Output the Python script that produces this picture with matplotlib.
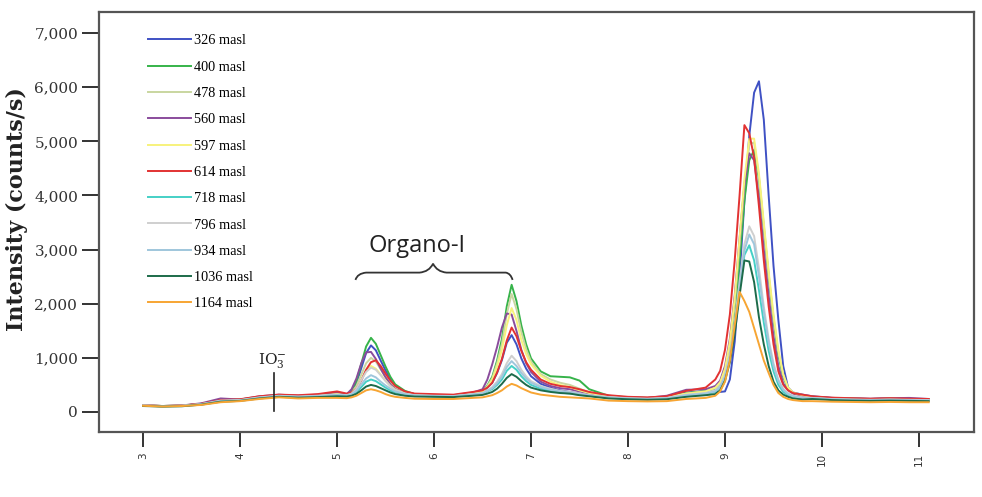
import matplotlib
matplotlib.use("Agg")
import matplotlib.pyplot as plt
from matplotlib.path import Path
from matplotlib.patches import PathPatch
from matplotlib.ticker import FuncFormatter

# ---------------- data ----------------
x_vals = [3.0, 3.2, 3.4, 3.6, 3.8, 4.0, 4.2, 4.4, 4.6, 4.8, 5.0,
          5.1, 5.15, 5.2, 5.25, 5.3, 5.35, 5.4, 5.45, 5.5, 5.55, 5.6, 5.7, 5.8,
          6.0, 6.2, 6.4, 6.5,
          6.55, 6.6, 6.65, 6.7, 6.75, 6.8, 6.85, 6.9, 6.95, 7.0, 7.1, 7.2,
          7.3, 7.4, 7.5, 7.6, 7.8, 8.0, 8.2, 8.4, 8.6, 8.8,
          8.9, 8.95, 9.0, 9.05, 9.1, 9.15, 9.2, 9.25, 9.3, 9.35, 9.4, 9.45, 9.5, 9.55, 9.6, 9.65, 9.7, 9.8,
          9.9, 10.1, 10.3, 10.5, 10.7, 10.9, 11.1]

labels = ["326 masl", "400 masl", "478 masl", "560 masl", "597 masl", "614 masl",
          "718 masl", "796 masl", "934 masl", "1036 masl", "1164 masl"]
colors = ["#3f51c4", "#36b34a", "#c9d6a0", "#8a4c9c", "#f7f27c", "#e23232",
          "#45d0c6", "#cfcfcf", "#9fc6dc", "#1d6b4a", "#f7a533"]

y_326 = [120, 105, 115, 150, 210, 220, 270, 290, 280, 300, 330,
         320, 375, 530, 810, 1090, 1230, 1140, 950, 770, 610, 490, 370, 330,
         300, 300, 340, 360,
         450, 540, 720, 960, 1280, 1420, 1250, 990, 800, 660, 520, 450,
         400, 370, 340, 300, 270, 250, 250, 270, 360, 380,
         370, 370, 380, 600, 1300, 2500, 3900, 5100, 5900, 6110, 5400, 4000, 2700, 1700, 850, 450, 360, 320,
         290, 260, 250, 240, 250, 240, 235]
y_400 = [125, 110, 120, 145, 220, 230, 280, 310, 290, 310, 340,
         320, 390, 570, 890, 1210, 1370, 1260, 1050, 840, 650, 510, 390, 330,
         310, 300, 350, 380,
         490, 650, 950, 1350, 1950, 2350, 2050, 1600, 1250, 990, 750, 660,
         650, 640, 580, 420, 300, 270, 260, 280, 350, 390,
         420, 480, 650, 1050, 1750, 2800, 3900, 4650, 4840, 4300, 3400, 2500, 1700, 1050, 650, 430, 350, 300,
         280, 255, 245, 240, 245, 240, 230]
y_478 = [120, 110, 115, 150, 215, 225, 275, 300, 290, 305, 335,
         315, 360, 480, 690, 900, 1000, 930, 790, 650, 530, 440, 360, 320,
         300, 300, 340, 370,
         480, 620, 900, 1260, 1810, 2180, 1900, 1480, 1160, 930, 700, 600,
         540, 500, 430, 360, 290, 265, 255, 270, 340, 380,
         440, 530, 760, 1250, 2000, 3100, 4200, 4950, 4980, 4350, 3450, 2550, 1750, 1100, 680, 440, 350, 300,
         280, 255, 245, 235, 245, 235, 230]
y_560 = [125, 110, 120, 160, 250, 230, 290, 320, 300, 320, 360,
         330, 420, 620, 900, 1100, 1110, 980, 800, 640, 510, 420, 350, 320,
         310, 310, 360, 420,
         600, 880, 1200, 1560, 1820, 1800, 1500, 1150, 900, 740, 560, 480,
         440, 420, 380, 340, 290, 270, 260, 300, 410, 420,
         480, 580, 850, 1350, 2150, 3200, 4200, 4780, 4650, 3950, 3000, 2150, 1400, 850, 530, 400, 340, 300,
         280, 260, 250, 245, 255, 260, 240]
y_597 = [120, 105, 115, 145, 210, 225, 270, 300, 290, 300, 330,
         310, 345, 440, 600, 770, 850, 800, 690, 580, 480, 410, 345, 315,
         300, 295, 340, 370,
         460, 590, 840, 1150, 1600, 1920, 1700, 1330, 1070, 880, 670, 560,
         500, 460, 400, 350, 285, 265, 255, 270, 340, 380,
         450, 550, 800, 1300, 2100, 3200, 4300, 5050, 5050, 4400, 3500, 2600, 1800, 1150, 700, 450, 360, 310,
         275, 250, 245, 235, 245, 235, 230]
y_614 = [125, 110, 120, 150, 220, 235, 290, 320, 310, 330, 380,
         340, 360, 430, 580, 780, 920, 955, 850, 710, 580, 480, 380, 340,
         330, 320, 370, 400,
         450, 540, 730, 980, 1320, 1560, 1400, 1130, 920, 780, 600, 520,
         480, 460, 420, 370, 310, 280, 270, 290, 390, 450,
         600, 760, 1150, 1800, 2800, 4000, 5300, 5150, 4700, 3800, 2800, 1950, 1250, 750, 500, 400, 350, 320,
         290, 265, 255, 245, 255, 245, 240]
y_718 = [115, 105, 110, 140, 200, 215, 260, 290, 275, 290, 310,
         305, 320, 370, 460, 560, 600, 570, 510, 450, 400, 360, 320, 300,
         290, 290, 320, 340,
         380, 420, 500, 600, 760, 850, 780, 660, 570, 500, 430, 390,
         360, 340, 320, 300, 260, 240, 235, 250, 300, 330,
         370, 450, 640, 1000, 1550, 2250, 2900, 3080, 2800, 2250, 1650, 1130, 750, 500, 370, 310, 280, 250,
         255, 235, 225, 220, 225, 220, 215]
y_796 = [120, 110, 115, 145, 210, 220, 270, 300, 285, 300, 320,
         310, 340, 430, 590, 740, 820, 780, 680, 570, 480, 410, 340, 310,
         300, 295, 330, 350,
         400, 460, 560, 700, 900, 1040, 940, 780, 660, 570, 480, 430,
         390, 370, 340, 310, 275, 255, 245, 260, 320, 350,
         400, 480, 680, 1050, 1650, 2400, 3100, 3430, 3250, 2650, 1950, 1350, 900, 600, 430, 350, 300, 270,
         260, 240, 230, 225, 230, 225, 220]
y_934 = [120, 105, 115, 140, 205, 215, 265, 295, 280, 295, 315,
         305, 330, 390, 510, 620, 680, 640, 560, 490, 430, 380, 330, 305,
         295, 290, 325, 345,
         390, 440, 530, 650, 830, 940, 850, 720, 620, 540, 460, 410,
         380, 360, 330, 305, 270, 250, 240, 255, 310, 340,
         380, 460, 650, 1000, 1580, 2300, 2980, 3280, 3100, 2500, 1850, 1280, 850, 570, 410, 330, 290, 260,
         255, 235, 225, 220, 225, 220, 215]
y_1036 = [110, 100, 105, 135, 190, 205, 250, 280, 265, 275, 290,
          285, 300, 335, 400, 470, 500, 480, 440, 400, 360, 330, 300, 285,
          280, 275, 300, 315,
          340, 370, 430, 520, 630, 700, 650, 570, 500, 450, 400, 370,
          350, 340, 310, 290, 250, 235, 225, 235, 280, 310,
          330, 400, 580, 920, 1450, 2150, 2800, 2780, 2400, 1750, 1250, 850, 560, 400, 320, 280, 250, 230,
          240, 220, 210, 205, 210, 205, 200]
y_1164 = [115, 100, 110, 130, 180, 200, 240, 270, 250, 260, 260,
          255, 270, 300, 350, 400, 420, 400, 370, 330, 300, 280, 260, 245,
          240, 240, 260, 270,
          290, 310, 350, 400, 470, 520, 490, 440, 400, 360, 320, 300,
          280, 270, 260, 250, 210, 200, 195, 200, 240, 260,
          300, 380, 560, 950, 1600, 2220, 2050, 1850, 1550, 1250, 950, 720, 500, 350, 280, 240, 220, 200,
          200, 190, 185, 180, 185, 180, 180]

series = [y_326, y_400, y_478, y_560, y_597, y_614, y_718, y_796, y_934, y_1036, y_1164]

x_ticks = [3, 4, 5, 6, 7, 8, 9, 10, 11]
y_ticks = [0, 1000, 2000, 3000, 4000, 5000, 6000, 7000]

# ---------------- figure ----------------
fig = plt.figure(figsize=(9.82, 4.97), dpi=100)
ax = fig.add_axes([99 / 982, 65 / 497, 875 / 982, 420 / 497])

for ys, lab, col in zip(series, labels, colors):
    ax.plot(x_vals, ys, color=col, lw=1.4, label=lab)

ax.set_xlim(2.546, 11.567)
ax.set_ylim(-370, 7390)

for s in ax.spines.values():
    s.set_color("#555555")
    s.set_linewidth(1.6)

ax.set_xticks(x_ticks)
ax.set_yticks(y_ticks)
ax.yaxis.set_major_formatter(FuncFormatter(lambda v, p: f"{int(v):,}"))
ax.tick_params(axis="y", direction="out", length=12, width=1.4, color="#333333",
               labelsize=11, pad=3, labelcolor="#333333")
ax.tick_params(axis="x", direction="out", length=11, width=1.4, color="#333333",
               labelsize=7.5, pad=4, labelrotation=90, labelcolor="#333333")
for t in ax.get_yticklabels():
    t.set_fontfamily("DejaVu Serif")
for t in ax.get_xticklabels():
    t.set_fontfamily("DejaVu Sans")

fig.text(17 / 982, 1 - 209 / 497, "Intensity (counts/s)", rotation=90, ha="center",
         va="center", fontsize=16, fontweight="bold", family="DejaVu Serif",
         color="#222222")

leg = ax.legend(loc="upper left", bbox_to_anchor=(0.056, 0.947), frameon=False,
                handlelength=3.0, handletextpad=0.25, labelspacing=0.93,
                borderpad=0, borderaxespad=0,
                prop={"family": "Liberation Serif", "size": 10.3})

# Organo-I bracket annotation
brace_verts = [(5.19, 2440), (5.21, 2560), (5.30, 2575), (5.35, 2575),
               (5.85, 2575), (5.95, 2590), (5.99, 2740),
               (6.03, 2590), (6.13, 2575), (6.65, 2575),
               (6.74, 2575), (6.79, 2560), (6.81, 2440)]
brace_codes = [Path.MOVETO, Path.CURVE3, Path.CURVE3, Path.LINETO,
               Path.LINETO, Path.CURVE3, Path.CURVE3,
               Path.CURVE3, Path.CURVE3, Path.LINETO,
               Path.LINETO, Path.CURVE3, Path.CURVE3]
ax.add_patch(PathPatch(Path(brace_verts, brace_codes), fill=False, lw=1.3,
                       edgecolor="#333333"))
ax.text(5.82, 3070, "Organo-I", ha="center", va="center", fontsize=17,
        family="Open Sans", color="#222222")

# IO3- marker
ax.plot([4.35, 4.35], [20, 720], color="#222222", lw=1.2)
ax.text(4.33, 780, r"$\mathregular{IO_3^{-}}$", ha="center", va="bottom",
        fontsize=11, family="DejaVu Serif", color="#222222")

fig.savefig("out.png", dpi=100)
